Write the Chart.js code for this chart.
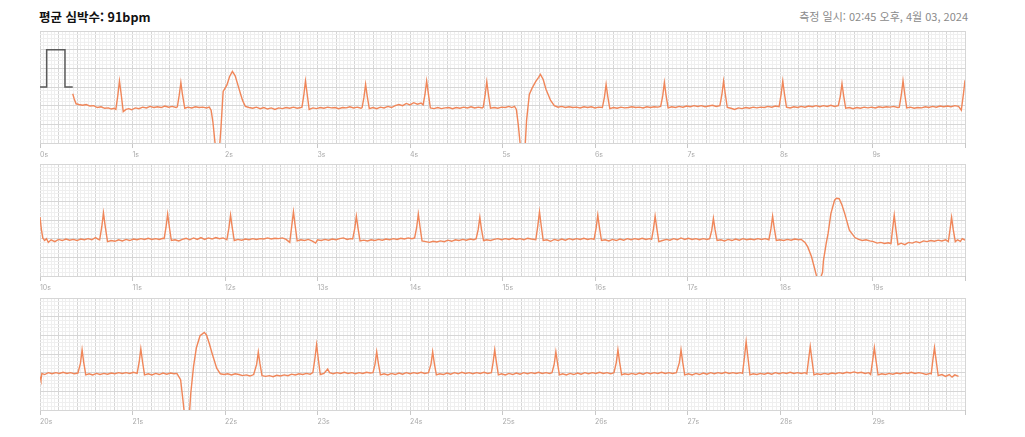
<!DOCTYPE html>
<html lang="ko">
<head>
<meta charset="utf-8">
<script src="https://cdn.jsdelivr.net/npm/chart.js@4.4.1/dist/chart.umd.min.js"></script>
<style>
  body { margin: 0; background: #fff; width: 1025px; height: 437px; overflow: hidden; position: relative;
         font-family: "Noto Sans CJK KR", "Noto Sans", sans-serif; }
  .title { position: absolute; left: 39px; top: 8px; line-height: 18px; font-size: 12.5px; font-weight: 700; color: #111; }
  .measured { position: absolute; right: 57px; top: 8px; line-height: 16px; font-size: 11px; color: #8a8a8a; }
  .strip { position: absolute; left: 0; width: 1025px; height: 134px; }
</style>
</head>
<body>
<div class="title" id="title"></div>
<div class="measured" id="measured"></div>
<div class="strip" style="top:31px"><canvas id="strip0" width="1025" height="134"></canvas></div>
<div class="strip" style="top:164px"><canvas id="strip1" width="1025" height="134"></canvas></div>
<div class="strip" style="top:298px"><canvas id="strip2" width="1025" height="134"></canvas></div>
<script>
const titleText = "평균 심박수: 91bpm"
const measuredText = "측정 일시: 02:45 오후, 4월 03, 2024"

const stripStarts = [0, 10, 20]
const stripSeconds = 10

// 1 mV calibration pulse at the start of the first strip [s, mV]
const calibrationPulse = [[0, 0], [0.072, 0], [0.072, 1], [0.27, 1], [0.27, 0], [0.354, 0]]

// ECG trace [s, mV]
const ecgStrip1 = [
  [0.354,-0.18],[0.37,-0.32],[0.39,-0.45],[0.42,-0.47],[0.46,-0.49],[0.50,-0.47],[0.54,-0.51],[0.58,-0.50],[0.62,-0.55],[0.66,-0.53],[0.70,-0.57],[0.74,-0.56],[0.77,-0.59],[0.80,-0.57],[0.82,-0.60],
  [0.84,-0.25],[0.859,0.16],[0.877,-0.18],[0.90,-0.66],[0.93,-0.60],[0.96,-0.58],[0.99,-0.61],[1.03,-0.56],[1.07,-0.58],[1.11,-0.54],[1.15,-0.56],[1.19,-0.52],[1.23,-0.55],[1.27,-0.53],[1.31,-0.55],[1.35,-0.51],[1.39,-0.54],[1.43,-0.52],[1.47,-0.55],[1.485,-0.53],
  [1.505,-0.22],[1.523,0.12],[1.54,-0.20],[1.565,-0.57],[1.60,-0.54],[1.64,-0.56],[1.68,-0.53],[1.72,-0.55],[1.76,-0.54],[1.80,-0.56],[1.83,-0.54],
  [1.85,-0.62],[1.87,-0.95],[1.89,-1.45],[1.91,-1.85],[1.935,-1.80],[1.955,-1.15],[1.98,-0.12],[2.02,0.05],[2.05,0.28],[2.08,0.42],[2.11,0.30],[2.14,0.05],[2.17,-0.20],[2.19,-0.36],[2.22,-0.52],[2.26,-0.55],[2.30,-0.57],[2.34,-0.54],[2.38,-0.58],[2.42,-0.55],[2.46,-0.59],[2.50,-0.56],[2.54,-0.60],[2.58,-0.56],[2.62,-0.58],[2.66,-0.55],[2.70,-0.57],[2.74,-0.54],[2.78,-0.57],[2.82,-0.55],[2.832,-0.54],
  [2.852,-0.22],[2.87,0.16],[2.888,-0.18],[2.91,-0.60],[2.95,-0.56],[2.99,-0.58],[3.03,-0.55],[3.07,-0.57],[3.11,-0.54],[3.15,-0.56],[3.19,-0.55],[3.23,-0.58],[3.27,-0.55],[3.31,-0.56],[3.35,-0.53],[3.39,-0.56],[3.43,-0.54],[3.47,-0.57],[3.482,-0.55],
  [3.502,-0.28],[3.52,0.07],[3.538,-0.25],[3.56,-0.58],[3.60,-0.55],[3.64,-0.58],[3.68,-0.54],[3.72,-0.56],[3.76,-0.52],[3.80,-0.55],[3.84,-0.50],[3.88,-0.47],[3.92,-0.50],[3.96,-0.44],[4.00,-0.48],[4.04,-0.42],[4.08,-0.46],[4.12,-0.43],[4.142,-0.48],
  [4.162,-0.20],[4.18,0.16],[4.198,-0.17],[4.22,-0.56],[4.26,-0.58],[4.30,-0.55],[4.34,-0.58],[4.38,-0.56],[4.42,-0.55],[4.46,-0.58],[4.50,-0.55],[4.54,-0.57],[4.58,-0.54],[4.62,-0.56],[4.66,-0.53],[4.70,-0.56],[4.74,-0.54],[4.78,-0.56],[4.792,-0.54],
  [4.812,-0.22],[4.83,0.14],[4.848,-0.20],[4.87,-0.57],[4.91,-0.55],[4.95,-0.57],[4.99,-0.54],[5.03,-0.55],[5.07,-0.52],[5.10,-0.55],[5.13,-0.52],
  [5.15,-0.60],[5.17,-1.00],[5.19,-1.50],[5.21,-1.85],[5.24,-1.80],[5.26,-0.90],[5.29,-0.20],[5.32,-0.03],[5.36,0.15],[5.39,0.26],[5.41,0.34],[5.44,0.20],[5.47,-0.06],[5.52,-0.36],[5.56,-0.50],[5.60,-0.54],[5.64,-0.52],[5.68,-0.55],[5.72,-0.53],[5.76,-0.55],[5.80,-0.54],[5.84,-0.56],[5.88,-0.53],[5.92,-0.55],[5.96,-0.53],[6.00,-0.56],[6.04,-0.54],[6.08,-0.55],
  [6.102,-0.27],[6.12,0.07],[6.138,-0.25],[6.16,-0.58],[6.20,-0.55],[6.24,-0.57],[6.28,-0.54],[6.32,-0.56],[6.36,-0.55],[6.40,-0.53],[6.44,-0.55],[6.48,-0.54],[6.52,-0.56],[6.56,-0.53],[6.60,-0.55],[6.64,-0.53],[6.68,-0.54],[6.71,-0.52],
  [6.732,-0.24],[6.75,0.12],[6.768,-0.22],[6.79,-0.56],[6.83,-0.53],[6.87,-0.55],[6.91,-0.52],[6.95,-0.54],[6.99,-0.51],[7.03,-0.53],[7.07,-0.50],[7.11,-0.52],[7.15,-0.50],[7.19,-0.53],[7.23,-0.51],[7.27,-0.49],[7.31,-0.52],[7.35,-0.50],
  [7.372,-0.20],[7.39,0.16],[7.408,-0.18],[7.43,-0.55],[7.47,-0.57],[7.51,-0.60],[7.55,-0.56],[7.59,-0.58],[7.63,-0.55],[7.67,-0.57],[7.71,-0.54],[7.75,-0.56],[7.79,-0.54],[7.83,-0.55],[7.87,-0.52],[7.91,-0.54],[7.95,-0.51],[7.99,-0.53],
  [8.012,-0.20],[8.03,0.16],[8.048,-0.18],[8.07,-0.54],[8.11,-0.56],[8.15,-0.53],[8.19,-0.55],[8.23,-0.52],[8.27,-0.54],[8.31,-0.51],[8.35,-0.53],[8.39,-0.50],[8.43,-0.53],[8.47,-0.50],[8.51,-0.52],[8.55,-0.49],[8.59,-0.52],[8.63,-0.50],
  [8.652,-0.25],[8.67,0.09],[8.688,-0.23],[8.71,-0.57],[8.75,-0.55],[8.79,-0.58],[8.83,-0.55],[8.87,-0.57],[8.91,-0.54],[8.95,-0.56],[8.99,-0.54],[9.03,-0.56],[9.07,-0.53],[9.11,-0.55],[9.15,-0.53],[9.19,-0.54],[9.23,-0.52],[9.27,-0.55],[9.29,-0.54],
  [9.312,-0.20],[9.33,0.17],[9.348,-0.18],[9.37,-0.56],[9.41,-0.54],[9.45,-0.57],[9.49,-0.55],[9.53,-0.56],[9.57,-0.53],[9.61,-0.55],[9.65,-0.52],[9.69,-0.54],[9.73,-0.51],[9.77,-0.53],[9.81,-0.51],[9.85,-0.53],[9.89,-0.50],[9.93,-0.52],[9.96,-0.62],[9.985,-0.15],[10.0,0.18]
]

const ecgStrip2 = [
  [10.0,0.08],[10.015,-0.25],[10.03,-0.48],[10.05,-0.55],[10.07,-0.50],[10.09,-0.60],[10.12,-0.53],[10.16,-0.58],[10.20,-0.52],[10.24,-0.55],[10.28,-0.51],[10.32,-0.54],[10.36,-0.52],[10.40,-0.55],[10.44,-0.51],[10.48,-0.53],[10.52,-0.50],[10.56,-0.53],[10.60,-0.47],[10.63,-0.52],[10.645,-0.53],
  [10.668,-0.18],[10.686,0.19],[10.704,-0.15],[10.73,-0.58],[10.77,-0.55],[10.81,-0.57],[10.85,-0.53],[10.89,-0.56],[10.93,-0.52],[10.97,-0.55],[11.01,-0.51],[11.05,-0.53],[11.09,-0.50],[11.13,-0.52],[11.17,-0.49],[11.21,-0.52],[11.25,-0.50],[11.29,-0.52],[11.33,-0.49],[11.342,-0.50],
  [11.362,-0.20],[11.38,0.16],[11.398,-0.18],[11.42,-0.55],[11.46,-0.53],[11.50,-0.56],[11.54,-0.52],[11.58,-0.49],[11.62,-0.53],[11.66,-0.48],[11.70,-0.52],[11.74,-0.47],[11.78,-0.52],[11.82,-0.48],[11.86,-0.51],[11.90,-0.47],[11.94,-0.50],[11.98,-0.48],[12.02,-0.53],
  [12.042,-0.22],[12.06,0.13],[12.078,-0.20],[12.10,-0.55],[12.14,-0.52],[12.18,-0.54],[12.22,-0.51],[12.26,-0.53],[12.30,-0.50],[12.34,-0.52],[12.38,-0.50],[12.42,-0.51],[12.46,-0.48],[12.50,-0.51],[12.54,-0.49],[12.58,-0.50],[12.62,-0.48],[12.66,-0.52],[12.70,-0.60],
  [12.722,-0.15],[12.74,0.22],[12.758,-0.14],[12.78,-0.56],[12.82,-0.53],[12.86,-0.55],[12.90,-0.52],[12.94,-0.56],[12.98,-0.62],[13.00,-0.53],[13.04,-0.55],[13.08,-0.52],[13.12,-0.54],[13.16,-0.51],[13.20,-0.53],[13.24,-0.50],[13.28,-0.48],[13.32,-0.52],[13.36,-0.50],[13.38,-0.51],
  [13.402,-0.24],[13.42,0.10],[13.438,-0.22],[13.46,-0.56],[13.50,-0.54],[13.54,-0.56],[13.58,-0.53],[13.62,-0.55],[13.66,-0.52],[13.70,-0.54],[13.74,-0.51],[13.78,-0.53],[13.82,-0.50],[13.86,-0.52],[13.90,-0.49],[13.94,-0.51],[13.98,-0.48],[14.02,-0.50],[14.05,-0.48],
  [14.072,-0.20],[14.09,0.16],[14.108,-0.18],[14.13,-0.56],[14.17,-0.58],[14.21,-0.60],[14.25,-0.57],[14.29,-0.59],[14.33,-0.56],[14.37,-0.58],[14.41,-0.54],[14.45,-0.57],[14.49,-0.53],[14.53,-0.55],[14.57,-0.52],[14.61,-0.54],[14.65,-0.51],[14.69,-0.53],[14.715,-0.50],
  [14.737,-0.26],[14.755,0.07],[14.773,-0.25],[14.795,-0.55],[14.83,-0.53],[14.87,-0.55],[14.91,-0.52],[14.95,-0.50],[14.99,-0.53],[15.03,-0.50],[15.07,-0.52],[15.11,-0.49],[15.15,-0.52],[15.19,-0.50],[15.23,-0.53],[15.27,-0.49],[15.31,-0.51],[15.36,-0.53],
  [15.382,-0.15],[15.40,0.22],[15.418,-0.14],[15.44,-0.55],[15.48,-0.53],[15.52,-0.57],[15.56,-0.52],[15.60,-0.55],[15.64,-0.51],[15.68,-0.54],[15.72,-0.50],[15.76,-0.53],[15.80,-0.50],[15.84,-0.52],[15.88,-0.49],[15.92,-0.52],[15.96,-0.50],[15.99,-0.52],
  [16.012,-0.22],[16.03,0.13],[16.048,-0.20],[16.07,-0.55],[16.11,-0.53],[16.15,-0.56],[16.19,-0.52],[16.23,-0.55],[16.27,-0.51],[16.31,-0.54],[16.35,-0.50],[16.39,-0.53],[16.43,-0.50],[16.47,-0.52],[16.51,-0.49],[16.55,-0.52],[16.59,-0.50],[16.612,-0.52],
  [16.632,-0.24],[16.65,0.10],[16.668,-0.22],[16.69,-0.58],[16.73,-0.55],[16.77,-0.52],[16.81,-0.54],[16.85,-0.50],[16.89,-0.53],[16.93,-0.48],[16.97,-0.52],[17.01,-0.49],[17.05,-0.52],[17.09,-0.50],[17.13,-0.53],[17.17,-0.50],[17.21,-0.52],[17.24,-0.50],
  [17.262,-0.28],[17.28,0.04],[17.298,-0.26],[17.32,-0.55],[17.36,-0.53],[17.40,-0.56],[17.44,-0.52],[17.48,-0.55],[17.52,-0.51],[17.56,-0.54],[17.60,-0.50],[17.64,-0.53],[17.68,-0.51],[17.72,-0.53],[17.76,-0.50],[17.80,-0.52],[17.84,-0.50],[17.88,-0.53],
  [17.902,-0.24],[17.92,0.10],[17.938,-0.22],[17.96,-0.55],[18.00,-0.53],[18.04,-0.55],[18.08,-0.52],[18.12,-0.54],[18.16,-0.51],[18.20,-0.53],[18.23,-0.52],
  [18.27,-0.60],[18.30,-0.72],[18.34,-0.98],[18.37,-1.26],[18.40,-1.55],[18.43,-1.62],[18.46,-1.40],[18.47,-1.08],[18.50,-0.62],[18.52,-0.36],[18.55,0.17],[18.59,0.53],[18.61,0.58],[18.64,0.57],[18.67,0.40],[18.70,0.17],[18.75,-0.27],[18.81,-0.47],[18.85,-0.52],[18.89,-0.55],[18.93,-0.53],[18.97,-0.56],[19.01,-0.58],[19.05,-0.62],[19.09,-0.60],[19.13,-0.63],[19.17,-0.61],[19.20,-0.63],
  [19.217,-0.25],[19.235,0.13],[19.253,-0.25],[19.275,-0.66],[19.31,-0.62],[19.35,-0.66],[19.39,-0.60],[19.43,-0.62],[19.47,-0.58],[19.51,-0.61],[19.55,-0.56],[19.59,-0.58],[19.63,-0.55],[19.67,-0.57],[19.71,-0.54],[19.75,-0.56],[19.79,-0.53],[19.82,-0.58],
  [19.837,-0.28],[19.855,0.07],[19.873,-0.26],[19.895,-0.58],[19.92,-0.53],[19.95,-0.57],[19.97,-0.50],[20.0,-0.54]
]

const ecgStrip3 = [
  [20.0,-0.60],[20.01,-0.70],[20.02,-0.52],[20.05,-0.55],[20.09,-0.50],[20.13,-0.53],[20.17,-0.50],[20.21,-0.52],[20.25,-0.49],[20.29,-0.52],[20.33,-0.50],[20.37,-0.53],[20.41,-0.51],
  [20.437,-0.25],[20.455,0.11],[20.473,-0.23],[20.495,-0.56],[20.53,-0.53],[20.57,-0.56],[20.61,-0.52],[20.65,-0.55],[20.69,-0.52],[20.73,-0.54],[20.77,-0.51],[20.81,-0.53],[20.85,-0.50],[20.89,-0.52],[20.93,-0.50],[20.97,-0.52],[21.01,-0.49],[21.05,-0.52],
  [21.072,-0.22],[21.09,0.14],[21.108,-0.20],[21.13,-0.56],[21.17,-0.53],[21.21,-0.56],[21.25,-0.52],[21.29,-0.55],[21.33,-0.51],[21.37,-0.54],[21.41,-0.51],[21.45,-0.53],[21.48,-0.52],
  [21.52,-0.69],[21.545,-1.23],[21.57,-1.80],[21.61,-1.80],[21.63,-1.05],[21.66,-0.33],[21.69,0.16],[21.73,0.49],[21.776,0.58],[21.80,0.51],[21.83,0.28],[21.86,0.02],[21.91,-0.38],[21.95,-0.53],[21.99,-0.55],[22.03,-0.53],[22.07,-0.56],[22.11,-0.53],[22.15,-0.55],[22.19,-0.58],[22.23,-0.56],[22.27,-0.59],[22.31,-0.55],
  [22.342,-0.28],[22.36,0.05],[22.378,-0.26],[22.40,-0.58],[22.44,-0.60],[22.48,-0.58],[22.52,-0.61],[22.56,-0.57],[22.60,-0.59],[22.64,-0.56],[22.68,-0.58],[22.72,-0.54],[22.76,-0.56],[22.80,-0.53],[22.84,-0.55],[22.88,-0.52],[22.92,-0.54],[22.95,-0.50],
  [22.972,-0.12],[22.99,0.25],[23.008,-0.12],[23.03,-0.55],[23.07,-0.52],[23.11,-0.40],[23.13,-0.50],[23.17,-0.53],[23.21,-0.50],[23.25,-0.52],[23.29,-0.49],[23.33,-0.52],[23.37,-0.50],[23.41,-0.53],[23.45,-0.50],[23.49,-0.52],[23.53,-0.49],[23.57,-0.51],[23.60,-0.50],
  [23.622,-0.27],[23.64,0.06],[23.658,-0.25],[23.68,-0.56],[23.72,-0.53],[23.76,-0.56],[23.80,-0.52],[23.84,-0.55],[23.88,-0.51],[23.92,-0.54],[23.96,-0.50],[24.00,-0.53],[24.04,-0.50],[24.08,-0.52],[24.12,-0.49],[24.16,-0.52],[24.20,-0.50],
  [24.227,-0.27],[24.245,0.06],[24.263,-0.25],[24.285,-0.56],[24.32,-0.53],[24.36,-0.55],[24.40,-0.51],[24.44,-0.54],[24.48,-0.50],[24.52,-0.53],[24.56,-0.49],[24.60,-0.52],[24.64,-0.50],[24.68,-0.53],[24.72,-0.50],[24.76,-0.52],[24.80,-0.49],[24.84,-0.52],[24.88,-0.50],
  [24.898,-0.23],[24.916,0.11],[24.934,-0.22],[24.955,-0.56],[24.99,-0.53],[25.03,-0.56],[25.07,-0.52],[25.11,-0.55],[25.15,-0.51],[25.19,-0.54],[25.23,-0.50],[25.27,-0.53],[25.31,-0.50],[25.35,-0.52],[25.39,-0.49],[25.43,-0.52],[25.47,-0.50],[25.51,-0.52],[25.535,-0.50],
  [25.559,-0.27],[25.577,0.06],[25.595,-0.25],[25.615,-0.56],[25.65,-0.53],[25.69,-0.56],[25.73,-0.52],[25.77,-0.55],[25.81,-0.51],[25.85,-0.54],[25.89,-0.50],[25.93,-0.53],[25.97,-0.50],[26.01,-0.52],[26.05,-0.49],[26.09,-0.52],[26.13,-0.50],[26.17,-0.53],[26.205,-0.50],
  [26.23,-0.23],[26.248,0.11],[26.266,-0.22],[26.288,-0.56],[26.32,-0.53],[26.36,-0.55],[26.40,-0.52],[26.44,-0.55],[26.48,-0.51],[26.52,-0.54],[26.56,-0.50],[26.60,-0.53],[26.64,-0.50],[26.68,-0.52],[26.72,-0.49],[26.76,-0.52],[26.80,-0.50],[26.84,-0.52],[26.88,-0.50],
  [26.912,-0.23],[26.93,0.11],[26.948,-0.22],[26.97,-0.56],[27.01,-0.53],[27.05,-0.56],[27.09,-0.52],[27.13,-0.55],[27.17,-0.51],[27.21,-0.54],[27.25,-0.50],[27.29,-0.53],[27.33,-0.50],[27.37,-0.52],[27.41,-0.49],[27.45,-0.52],[27.49,-0.50],[27.53,-0.52],[27.57,-0.50],[27.595,-0.52],
  [27.616,-0.08],[27.634,0.33],[27.652,-0.06],[27.675,-0.56],[27.71,-0.53],[27.75,-0.55],[27.79,-0.52],[27.83,-0.54],[27.87,-0.51],[27.91,-0.54],[27.95,-0.50],[27.99,-0.53],[28.03,-0.50],[28.07,-0.52],[28.11,-0.49],[28.15,-0.52],[28.19,-0.50],[28.23,-0.52],[28.27,-0.50],[28.29,-0.53],
  [28.309,-0.15],[28.327,0.20],[28.345,-0.15],[28.367,-0.56],[28.40,-0.53],[28.44,-0.55],[28.48,-0.52],[28.52,-0.54],[28.56,-0.51],[28.60,-0.53],[28.64,-0.50],[28.68,-0.52],[28.72,-0.49],[28.76,-0.51],[28.80,-0.48],[28.84,-0.51],[28.88,-0.49],[28.92,-0.52],[28.96,-0.50],[28.98,-0.55],
  [29.002,-0.17],[29.02,0.17],[29.038,-0.17],[29.06,-0.56],[29.10,-0.53],[29.14,-0.55],[29.18,-0.52],[29.22,-0.54],[29.26,-0.51],[29.30,-0.53],[29.34,-0.50],[29.38,-0.52],[29.42,-0.49],[29.46,-0.52],[29.50,-0.50],[29.54,-0.52],[29.58,-0.55],[29.62,-0.52],[29.635,-0.53],
  [29.652,-0.17],[29.67,0.17],[29.688,-0.17],[29.71,-0.58],[29.75,-0.55],[29.79,-0.60],[29.83,-0.55],[29.86,-0.62],[29.89,-0.56],[29.93,-0.60]
]

const ecgStrips = [ecgStrip1, ecgStrip2, ecgStrip3]

const TRACE = "#f08659"
const PULSE = "#5a5a5a"
const MAJOR = "#d6d6d6"
const MINOR = "#efefef"

function onStep(v, step) {
  const q = v / step
  return Math.abs(q - Math.round(q)) < 1e-6
}

function toPoints(pairs, start) {
  return pairs.map(([t, mv]) => ({ x: t - start, y: mv }))
}

document.getElementById("title").textContent = titleText
document.getElementById("measured").textContent = measuredText

stripStarts.forEach((start, i) => {
  const datasets = [{
    data: toPoints(ecgStrips[i], start),
    borderColor: TRACE,
    borderWidth: 1.4,
    pointRadius: 0,
    tension: 0
  }]
  if (i === 0) {
    datasets.push({
      data: toPoints(calibrationPulse, 0),
      borderColor: PULSE,
      borderWidth: 1.5,
      pointRadius: 0,
      tension: 0
    })
  }

  new Chart(document.getElementById("strip" + i), {
    type: "line",
    data: { datasets },
    options: {
      responsive: false,
      animation: false,
      layout: { padding: { left: 40, right: 60, top: 0, bottom: 0 } },
      plugins: { legend: { display: false }, tooltip: { enabled: false } },
      scales: {
        x: {
          type: "linear",
          min: 0,
          max: stripSeconds,
          afterFit: scale => { scale.height = 22 },
          border: { display: false },
          grid: {
            color: ctx => onStep(ctx.tick.value, 0.2) ? MAJOR : MINOR,
            lineWidth: 1,
            tickLength: 5,
            tickColor: ctx => onStep(ctx.tick.value, 1) ? "#c8c8c8" : "rgba(0,0,0,0)"
          },
          ticks: {
            stepSize: 0.04,
            autoSkip: false,
            maxRotation: 0,
            align: "start",
            padding: 3,
            color: "#aaaaaa",
            font: { family: "Inter", size: 7 },
            callback: v => (onStep(v, 1) && v < stripSeconds) ? (Math.round(v) + start) + "s" : ""
          }
        },
        y: {
          min: -1.5,
          max: 1.5,
          afterFit: scale => { scale.width = 0 },
          border: { display: false },
          grid: {
            color: ctx => onStep(ctx.tick.value, 0.5) ? MAJOR : MINOR,
            drawTicks: false
          },
          ticks: { stepSize: 0.1, display: false }
        }
      }
    }
  })
})
</script>
</body>
</html>
